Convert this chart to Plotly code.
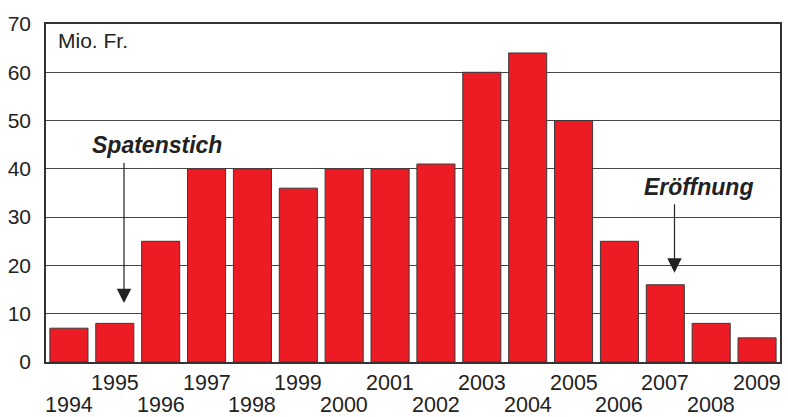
import plotly.graph_objects as go

years = list(range(1994, 2010))
values = [7, 8, 25, 40, 40, 36, 40, 40, 41, 60, 64, 50, 25, 16, 8, 5]
y_ticks = [0, 10, 20, 30, 40, 50, 60, 70]
year_labels = [str(y) for y in years]

font = "Liberation Sans, Arial, sans-serif"

fig = go.Figure()
fig.add_trace(go.Bar(
    x=years, y=values,
    marker=dict(color="#ED1C24", line=dict(color="#3a3a3a", width=1)),
    width=0.83, hoverinfo="skip",
))

# staggered year labels
for yr, lab in zip(years, year_labels):
    fig.add_annotation(x=yr, y=0, xref="x", yref="paper", showarrow=False,
                       yanchor="middle", yshift=-20.5 if yr % 2 else -42.5,
                       text=lab, font=dict(family=font, size=21.5, color="#222"))

fig.add_annotation(x=1995.2, y=12.2, ax=1995.2, ay=41.5, xref="x", yref="y",
                   axref="x", ayref="y", showarrow=True, arrowhead=2,
                   arrowsize=2.4, arrowwidth=1.2, arrowcolor="#222", text="")
fig.add_annotation(x=1995.91, y=45.0, xref="x", yref="y", showarrow=False,
                   text="<b><i>Spatenstich</i></b>",
                   font=dict(family=font, size=23, color="#222"))
fig.add_annotation(x=2007.2, y=18.5, ax=2007.2, ay=33.0, xref="x", yref="y",
                   axref="x", ayref="y", showarrow=True, arrowhead=2,
                   arrowsize=2.4, arrowwidth=1.2, arrowcolor="#222", text="")
fig.add_annotation(x=2007.72, y=36.3, xref="x", yref="y", showarrow=False,
                   text="<b><i>Eröffnung</i></b>",
                   font=dict(family=font, size=23, color="#222"))
fig.add_annotation(x=0.013, y=0.99, xref="paper", yref="paper", showarrow=False,
                   xanchor="left", yanchor="top", text="Mio. Fr.",
                   font=dict(family=font, size=21, color="#222"))

fig.update_layout(
    width=788, height=417,
    margin=dict(l=46, r=6, t=24, b=55),
    paper_bgcolor="white", plot_bgcolor="white",
    showlegend=False,
    font=dict(family=font, size=21, color="#222"),
    xaxis=dict(range=[1993.5, 2009.5], tickvals=years, showticklabels=False,
               showgrid=False, showline=True, linecolor="#333", linewidth=1.5,
               mirror=True, ticks="", zeroline=False),
    yaxis=dict(range=[0, 70], tickvals=y_ticks, showgrid=True, gridcolor="#444",
               gridwidth=1, showline=True, linecolor="#333", linewidth=1.5,
               mirror=True, ticks="outside", ticklen=9, tickcolor="rgba(0,0,0,0)",
               tickfont=dict(size=21), zeroline=False),
)

fig.write_html("out.html", config={"displayModeBar": False},
               post_script="document.body.style.margin='0px';")
